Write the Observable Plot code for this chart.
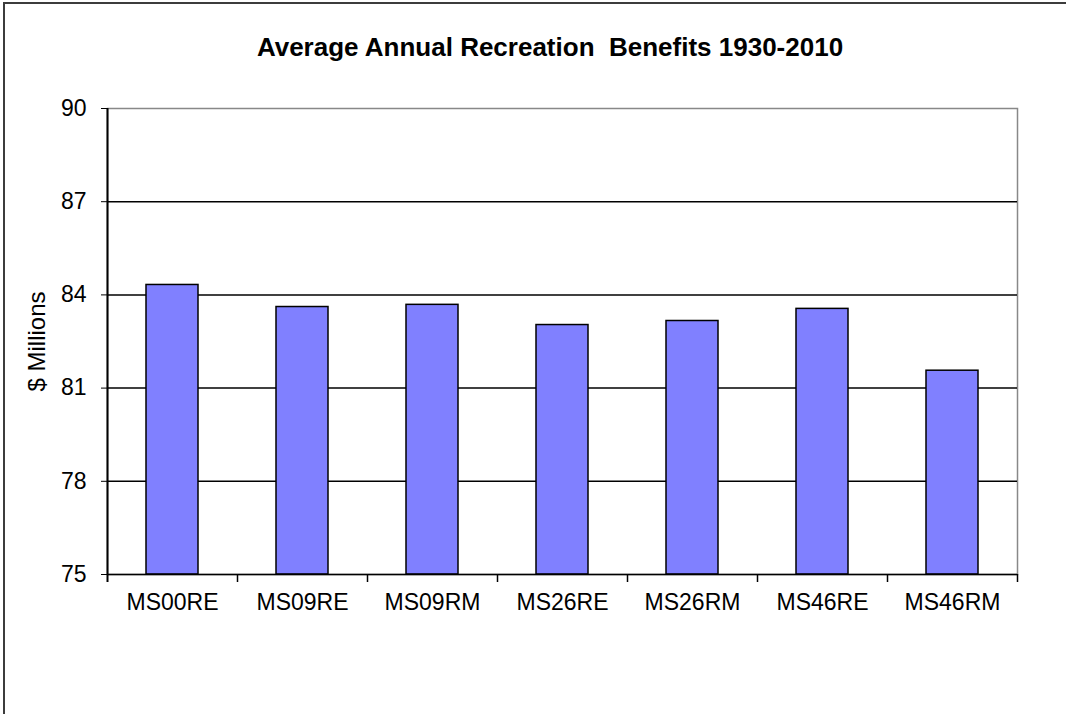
<!DOCTYPE html>
<html><head><meta charset="utf-8">
<script src="https://cdn.jsdelivr.net/npm/d3@7"></script>
<script src="https://cdn.jsdelivr.net/npm/@observablehq/plot@0.6"></script>
<style>
html,body{margin:0;padding:0;background:#fff;overflow:hidden;width:1066px;height:714px;}
#frame{position:absolute;left:3px;top:2px;width:2000px;height:2000px;border-left:2px solid #3c3c3c;border-top:2px solid #3c3c3c;pointer-events:none;}
#title{height:70px;box-sizing:border-box;padding-top:33px;width:1100px;text-align:center;font:bold 26px Arial,"Liberation Sans",sans-serif;line-height:28px;color:#000;}
#chart svg{display:block;}
</style></head>
<body>
<div id="frame"></div>
<div id="title">Average Annual Recreation&nbsp; Benefits 1930-2010</div>
<div id="chart"></div>
<script>
const categories = ["MS00RE","MS09RE","MS09RM","MS26RE","MS26RM","MS46RE","MS46RM"];
const values = [84.32, 83.61, 83.68, 83.03, 83.16, 83.55, 81.56];
const yTicks = [75, 78, 81, 84, 87, 90];
const gridValues = [78, 81, 84, 87];

const data = categories.map((c, i) => ({name: c, value: values[i]}));
const step = (1017 - 107) / categories.length;

const chart = Plot.plot({
  width: 1066,
  height: 644,
  marginLeft: 107,
  marginRight: 49,
  marginTop: 38,
  marginBottom: 140,
  style: {fontFamily: "Arial, 'Liberation Sans', sans-serif", fontSize: "23px", color: "#000", background: "#fff"},
  x: {domain: categories, type: "band", paddingInner: 0.6, paddingOuter: 0.3, label: null},
  y: {domain: [75, 90], label: null},
  marks: [
    Plot.frame({stroke: "#888", strokeWidth: 1.5}),
    Plot.ruleY(gridValues, {stroke: "#000", strokeWidth: 1.5}),
    Plot.barY(data, {x: "name", y1: 75, y2: "value", fill: "#8080ff", stroke: "#000", strokeWidth: 1.5}),
    Plot.ruleY([75], {stroke: "#000", strokeWidth: 1.5}),
    Plot.ruleX([categories[0]], {x: d => d, dx: -step / 2, y1: 90, y2: 75, insetBottom: -8, stroke: "#000", strokeWidth: 2}),
    Plot.ruleX(categories, {x: d => d, dx: step / 2, y1: 75, y2: 75, insetBottom: -8, stroke: "#000", strokeWidth: 1.5}),
    Plot.axisY({ticks: yTicks, tickSize: 6, tickPadding: 15, stroke: "#000", fontSize: 23, tickFormat: d => String(d)}),
    Plot.axisX({tickSize: 0, tickPadding: 19, fontSize: 23}),
    Plot.text(["$ Millions"], {text: d => d, frameAnchor: "left", textAnchor: "middle", dx: -70, rotate: -90, fontSize: 24})
  ]
});
document.getElementById("chart").appendChild(chart);
</script>
</body></html>
